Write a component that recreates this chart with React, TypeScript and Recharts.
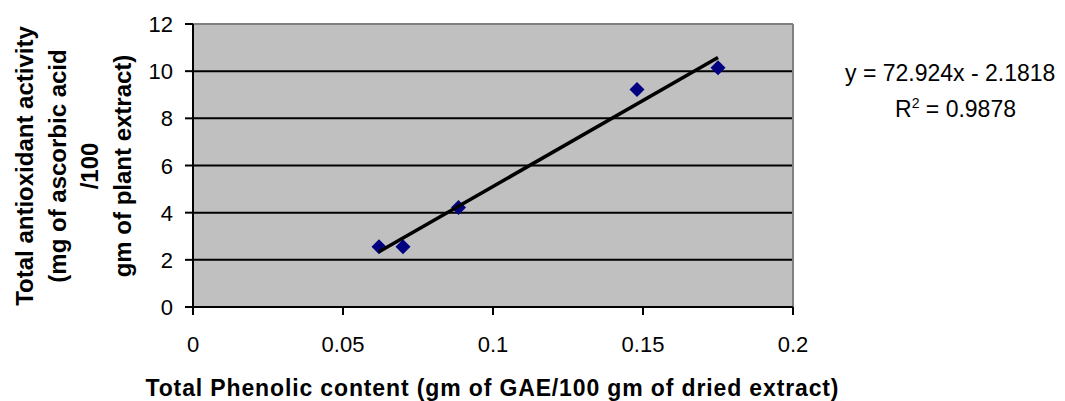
import React from "react";
import {
  CartesianGrid,
  ReferenceLine,
  Scatter,
  ScatterChart,
  XAxis,
  YAxis,
} from "recharts";

// phenolic content (x) vs antioxidant activity (y)
const PHENOLIC = [0.062, 0.07, 0.0885, 0.148, 0.175];
const ANTIOX = [2.55, 2.55, 4.22, 9.22, 10.15];

const X_TICKS = [0, 0.05, 0.1, 0.15, 0.2];
const Y_TICKS = [0, 2, 4, 6, 8, 10, 12];

const SLOPE = 72.924;
const INTERCEPT = -2.1818;
const R2 = "0.9878";

const Y_TITLE = ["Total antioxidant activity", "(mg of ascorbic acid", "/100", "gm of plant extract)"];
const X_TITLE = "Total Phenolic content (gm of GAE/100 gm of dried extract)";

const points = PHENOLIC.map((x, i) => ({ x, y: ANTIOX[i] }));
const xMin = Math.min(...PHENOLIC);
const xMax = Math.max(...PHENOLIC);
const trend = [
  { x: xMin, y: SLOPE * xMin + INTERCEPT },
  { x: xMax, y: SLOPE * xMax + INTERCEPT },
];

const FONT = "'Liberation Sans', Arial, sans-serif";

const Diamond = (p: any) => {
  const { cx, cy } = p;
  const r = 7.5;
  return <path d={`M${cx},${cy - r}L${cx + r},${cy}L${cx},${cy + r}L${cx - r},${cy}Z`} fill="#000080" />;
};

const XTick = ({ x, y, payload }: any) => (
  <text x={x} y={y + 35} textAnchor="middle" fontSize={22} fontFamily={FONT} fill="#000">
    {payload.value}
  </text>
);

const YTick = ({ x, y, payload }: any) => (
  <text x={x - 10} y={y + 8} textAnchor="end" fontSize={22} fontFamily={FONT} fill="#000">
    {payload.value}
  </text>
);

export default function App() {
  return (
    <div style={{ width: 1065, height: 401, background: "#fff" }}>
      <style>{`body{margin:0}`}</style>
      <ScatterChart width={1065} height={401} margin={{ top: 24, right: 272, bottom: 0, left: 0 }}>
        <CartesianGrid vertical={false} stroke="#000" strokeWidth={2} fill="#C0C0C0" fillOpacity={1} />
        <XAxis
          type="number"
          dataKey="x"
          domain={[0, 0.2]}
          ticks={X_TICKS}
          tick={<XTick />}
          tickSize={8}
          axisLine={{ stroke: "#000", strokeWidth: 2 }}
          tickLine={{ stroke: "#000", strokeWidth: 2 }}
          height={94}
        />
        <YAxis
          type="number"
          dataKey="y"
          domain={[0, 12]}
          ticks={Y_TICKS}
          tick={<YTick />}
          tickSize={8}
          axisLine={{ stroke: "#000", strokeWidth: 2 }}
          tickLine={{ stroke: "#000", strokeWidth: 2 }}
          width={193}
        />
        <ReferenceLine y={12} stroke="#808080" strokeWidth={2} />
        <ReferenceLine x={0.2} stroke="#808080" strokeWidth={2} />
        <Scatter data={points} fill="#000080" shape={<Diamond />} isAnimationActive={false} />
        <Scatter
          data={trend}
          line={{ stroke: "#000", strokeWidth: 3.5 }}
          shape={() => <g />}
          isAnimationActive={false}
        />
        <g fontFamily={FONT} fill="#000">
          {Y_TITLE.map((t, i) => (
            <text
              key={t}
              transform={`translate(${33 + i * 32.5},166) rotate(-90)`}
              textAnchor="middle"
              fontSize={24}
              fontWeight="bold"
            >
              {t}
            </text>
          ))}
          <text x={492} y={396} textAnchor="middle" fontSize={23} fontWeight="bold" textLength={693}>
            {X_TITLE}
          </text>
          <text x={845} y={81} fontSize={23}>
            y = {SLOPE}x - {Math.abs(INTERCEPT)}
          </text>
          <text x={895} y={117} fontSize={23}>
            R<tspan dy={-9} fontSize={14}>2</tspan>
            <tspan dy={9}> = {R2}</tspan>
          </text>
        </g>
      </ScatterChart>
    </div>
  );
}
